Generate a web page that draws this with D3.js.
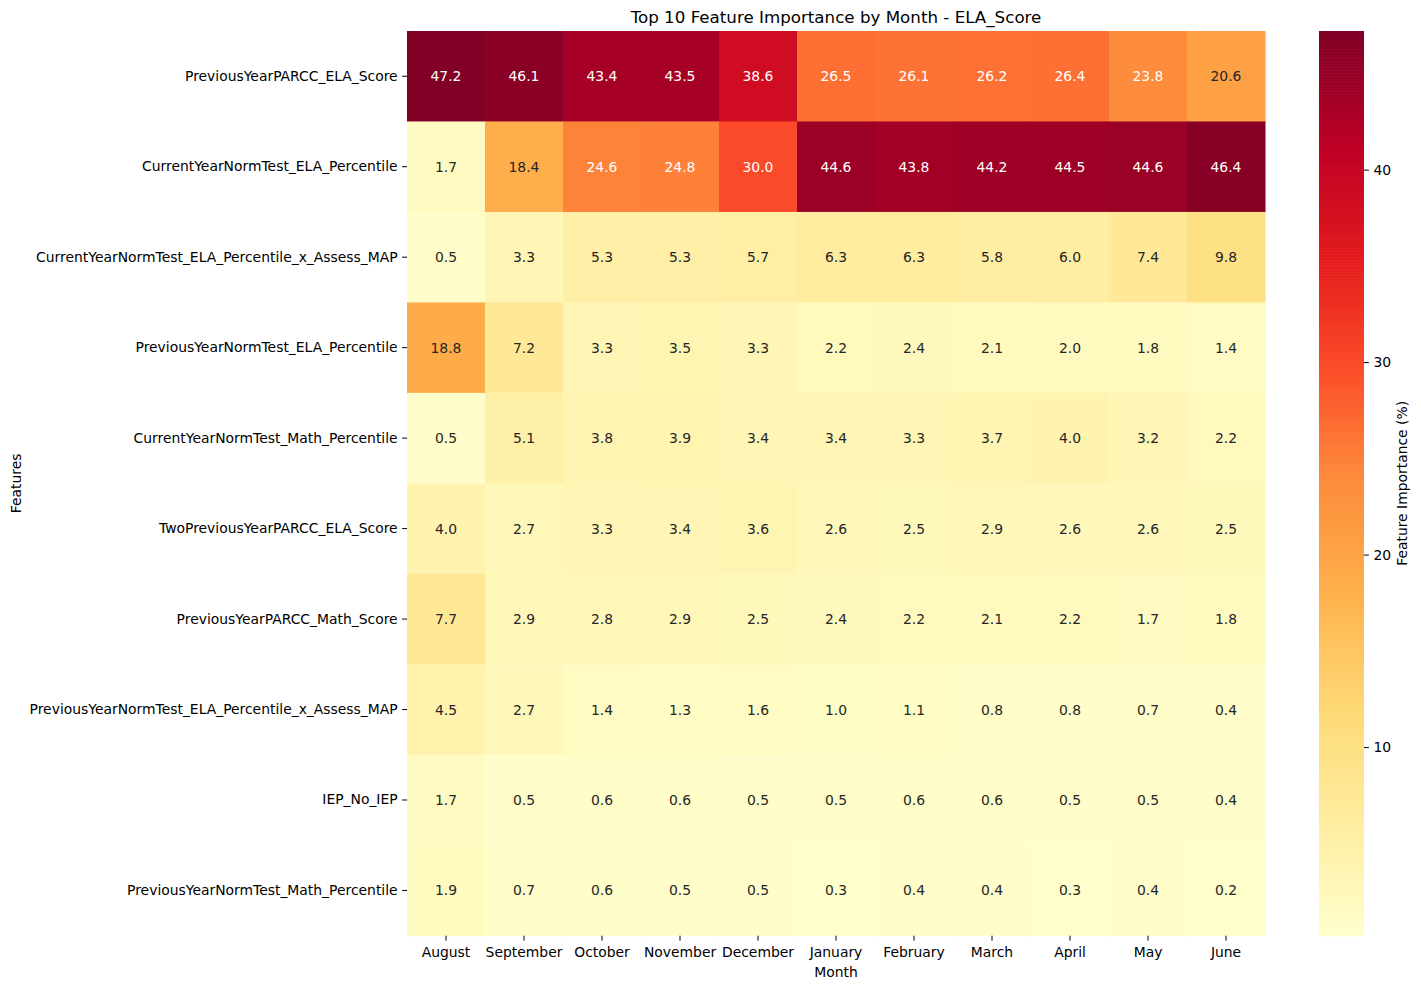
<!DOCTYPE html>
<html>
<head>
<meta charset="utf-8">
<script src="https://cdn.jsdelivr.net/npm/d3@7"></script>
<style>
  body { margin: 0; background: #fff; }
  text { font-family: "DejaVu Sans", sans-serif; }
</style>
</head>
<body>
<div id="chart"></div>
<script>
// data
const months = ["August","September","October","November","December","January","February","March","April","May","June"];
const features = [
  "PreviousYearPARCC_ELA_Score",
  "CurrentYearNormTest_ELA_Percentile",
  "CurrentYearNormTest_ELA_Percentile_x_Assess_MAP",
  "PreviousYearNormTest_ELA_Percentile",
  "CurrentYearNormTest_Math_Percentile",
  "TwoPreviousYearPARCC_ELA_Score",
  "PreviousYearPARCC_Math_Score",
  "PreviousYearNormTest_ELA_Percentile_x_Assess_MAP",
  "IEP_No_IEP",
  "PreviousYearNormTest_Math_Percentile"
];
const values = [
  [47.2, 46.1, 43.4, 43.5, 38.6, 26.5, 26.1, 26.2, 26.4, 23.8, 20.6],
  [1.7, 18.4, 24.6, 24.8, 30.0, 44.6, 43.8, 44.2, 44.5, 44.6, 46.4],
  [0.5, 3.3, 5.3, 5.3, 5.7, 6.3, 6.3, 5.8, 6.0, 7.4, 9.8],
  [18.8, 7.2, 3.3, 3.5, 3.3, 2.2, 2.4, 2.1, 2.0, 1.8, 1.4],
  [0.5, 5.1, 3.8, 3.9, 3.4, 3.4, 3.3, 3.7, 4.0, 3.2, 2.2],
  [4.0, 2.7, 3.3, 3.4, 3.6, 2.6, 2.5, 2.9, 2.6, 2.6, 2.5],
  [7.7, 2.9, 2.8, 2.9, 2.5, 2.4, 2.2, 2.1, 2.2, 1.7, 1.8],
  [4.5, 2.7, 1.4, 1.3, 1.6, 1.0, 1.1, 0.8, 0.8, 0.7, 0.4],
  [1.7, 0.5, 0.6, 0.6, 0.5, 0.5, 0.6, 0.6, 0.5, 0.5, 0.4],
  [1.9, 0.7, 0.6, 0.5, 0.5, 0.3, 0.4, 0.4, 0.3, 0.4, 0.2]
];
const cbarTicks = [10, 20, 30, 40];
const ylOrRd = ["#ffffcc","#ffeda0","#fed976","#feb24c","#fd8d3c","#fc4e2a","#e31a1c","#bd0026","#800026"];

const W = 1421, H = 989;
const m = {left: 407, top: 31, right: 1265, bottom: 935.7};
const fs = 13.9;

const svg = d3.select("#chart").append("svg")
  .attr("width", W).attr("height", H);

const vmin = d3.min(values.flat()), vmax = d3.max(values.flat());
const color = d3.scaleLinear()
  .domain(ylOrRd.map((c, i) => vmin + (vmax - vmin) * i / (ylOrRd.length - 1)))
  .range(ylOrRd)
  .interpolate(d3.interpolateRgb)
  .clamp(true);

const x = d3.scaleBand().domain(months).range([m.left, m.right]);
const y = d3.scaleBand().domain(features).range([m.top, m.bottom]);

// seaborn style text colour by luminance
function lum(c) {
  const rgb = d3.rgb(c);
  const f = v => { v /= 255; return v <= 0.03928 ? v / 12.92 : Math.pow((v + 0.055) / 1.055, 2.4); };
  return 0.2126 * f(rgb.r) + 0.7152 * f(rgb.g) + 0.0722 * f(rgb.b);
}

const cells = [];
values.forEach((row, i) => row.forEach((v, j) => cells.push({f: features[i], m: months[j], v})));

const g = svg.append("g");
g.selectAll("rect").data(cells).enter().append("rect")
  .attr("x", d => x(d.m)).attr("y", d => y(d.f))
  .attr("width", x.bandwidth() + 0.5).attr("height", y.bandwidth() + 0.5)
  .attr("fill", d => color(d.v));

g.selectAll("text.ann").data(cells).enter().append("text")
  .attr("class", "ann")
  .attr("x", d => x(d.m) + x.bandwidth() / 2)
  .attr("y", d => y(d.f) + y.bandwidth() / 2)
  .attr("text-anchor", "middle").attr("dominant-baseline", "central")
  .attr("font-size", fs)
  .attr("fill", d => lum(color(d.v)) > 0.408 ? "#262626" : "#ffffff")
  .text(d => d.v.toFixed(1));

// axes
const xAxis = svg.append("g")
  .attr("transform", `translate(0,${m.bottom})`)
  .call(d3.axisBottom(x).tickSize(4.9).tickPadding(6.5));
const yAxis = svg.append("g")
  .attr("transform", `translate(${m.left},0)`)
  .call(d3.axisLeft(y).tickSize(4.9).tickPadding(4.5));
[xAxis, yAxis].forEach(a => {
  a.select(".domain").remove();
  a.selectAll("line").attr("stroke", "#000").attr("stroke-width", 1);
  a.selectAll("text").attr("font-size", fs).attr("fill", "#000")
    .attr("font-family", "DejaVu Sans");
});

// titles
svg.append("text")
  .attr("x", (m.left + m.right) / 2).attr("y", 23)
  .attr("text-anchor", "middle").attr("font-size", 16.7)
  .text("Top 10 Feature Importance by Month - ELA_Score");
svg.append("text")
  .attr("x", (m.left + m.right) / 2).attr("y", 977)
  .attr("text-anchor", "middle").attr("font-size", fs)
  .text("Month");
svg.append("text")
  .attr("transform", `translate(21,${(m.top + m.bottom) / 2}) rotate(-90)`)
  .attr("text-anchor", "middle").attr("font-size", fs)
  .text("Features");

// colorbar
const cb = {x: 1319, w: 45};
const cy = d3.scaleLinear().domain([vmin, vmax]).range([m.bottom, m.top]);
const steps = d3.range(0, 300);
svg.append("g").selectAll("rect").data(steps).enter().append("rect")
  .attr("x", cb.x)
  .attr("y", i => cy(vmin + (vmax - vmin) * (i + 1) / steps.length))
  .attr("width", cb.w)
  .attr("height", (m.bottom - m.top) / steps.length + 0.6)
  .attr("fill", i => color(vmin + (vmax - vmin) * (i + 0.5) / steps.length));
const cAxis = svg.append("g")
  .attr("transform", `translate(${cb.x + cb.w},0)`)
  .call(d3.axisRight(cy).tickValues(cbarTicks).tickSize(4.9).tickPadding(4.5));
cAxis.select(".domain").remove();
cAxis.selectAll("line").attr("stroke", "#000");
cAxis.selectAll("text").attr("font-size", fs).attr("fill", "#000").attr("font-family", "DejaVu Sans");
svg.append("text")
  .attr("transform", `translate(1407,${(m.top + m.bottom) / 2}) rotate(-90)`)
  .attr("text-anchor", "middle").attr("font-size", fs)
  .text("Feature Importance (%)");
</script>
</body>
</html>
